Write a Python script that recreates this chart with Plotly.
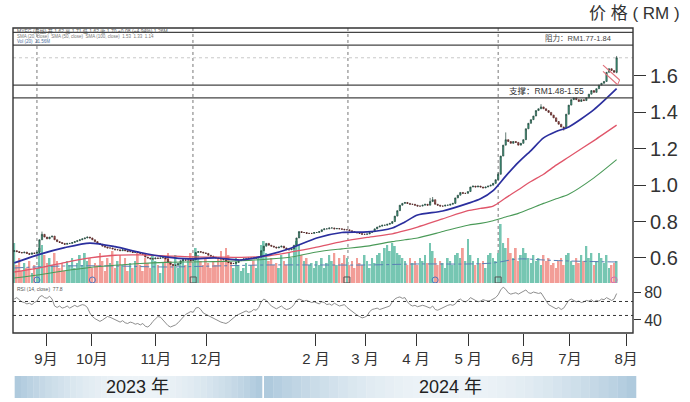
import plotly.graph_objects as go
import math

# ---------------- data ----------------
closes = [
    0.640, 0.635, 0.630, 0.628, 0.632, 0.625, 0.620, 0.628, 0.625, 0.632,
    0.700, 0.730, 0.715, 0.705, 0.715, 0.720, 0.700, 0.690, 0.685, 0.680,
    0.675, 0.680, 0.680, 0.685, 0.690, 0.695, 0.700, 0.705, 0.710, 0.715,
    0.710, 0.700, 0.690, 0.680, 0.675, 0.665, 0.660, 0.655, 0.655, 0.650,
    0.645, 0.645, 0.640, 0.645, 0.640, 0.635, 0.635, 0.630, 0.632, 0.630,
    0.625, 0.620, 0.605, 0.600, 0.595, 0.595, 0.600, 0.598, 0.600, 0.602,
    0.595, 0.575, 0.565, 0.560, 0.560, 0.570, 0.585, 0.590, 0.588, 0.590,
    0.585, 0.590, 0.630, 0.635, 0.632, 0.628, 0.625, 0.615, 0.610, 0.605,
    0.600, 0.598, 0.595, 0.590, 0.580, 0.575, 0.570, 0.570, 0.575, 0.585,
    0.590, 0.595, 0.595, 0.600, 0.600, 0.598, 0.600, 0.605, 0.640, 0.665,
    0.680, 0.670, 0.665, 0.660, 0.655, 0.660, 0.665, 0.655, 0.645, 0.645,
    0.650, 0.670, 0.710, 0.745, 0.740, 0.740, 0.735, 0.735, 0.735, 0.740,
    0.740, 0.745, 0.755, 0.760, 0.760, 0.765, 0.765, 0.760, 0.762, 0.760,
    0.758, 0.755, 0.755, 0.750, 0.745, 0.740, 0.738, 0.735, 0.730, 0.730,
    0.732, 0.740, 0.745, 0.760, 0.770, 0.775, 0.780, 0.780, 0.785, 0.790,
    0.800, 0.830, 0.860, 0.890, 0.900, 0.905, 0.900, 0.895, 0.895, 0.890,
    0.885, 0.885, 0.890, 0.895, 0.890, 0.910, 0.920, 0.895, 0.890, 0.885,
    0.885, 0.890, 0.890, 0.895, 0.900, 0.930, 0.945, 0.960, 0.955, 0.955,
    0.965, 0.990, 0.995, 0.990, 0.995, 0.990, 0.985, 0.990, 0.995, 1.000,
    1.010, 1.030, 1.060, 1.160, 1.220, 1.250, 1.240, 1.230, 1.240, 1.235,
    1.220, 1.230, 1.250, 1.310, 1.340, 1.360, 1.380, 1.410, 1.420, 1.430,
    1.420, 1.410, 1.400, 1.385, 1.370, 1.350, 1.335, 1.320, 1.315, 1.390,
    1.440, 1.470, 1.480, 1.470, 1.460, 1.470, 1.465, 1.480, 1.500, 1.520,
    1.510, 1.530, 1.550, 1.560, 1.570, 1.620, 1.640, 1.630, 1.620, 1.700,
]
first_open = 0.635
wick_highs = {11: 0.745, 165: 0.93, 166: 0.935, 192: 1.07, 195: 1.29, 209: 1.445, 239: 1.71}
wick_lows = {10: 0.625, 193: 1.06, 218: 1.30, 239: 1.615}

volumes = [
    40, 18, 25, 12, 20, 15, 22, 10, 18, 14,
    35, 38, 28, 20, 25, 18, 30, 22, 15, 20,
    12, 22, 18, 25, 15, 20, 28, 18, 30, 22,
    25, 15, 20, 18, 30, 22, 12, 25, 20, 32,
    15, 22, 28, 18, 25, 12, 20, 15, 22, 30,
    18, 12, 25, 20, 15, 28, 22, 18, 10, 20,
    25, 30, 22, 18, 28, 15, 20, 25, 18, 22,
    30, 20, 35, 28, 22, 18, 25, 20, 15, 22,
    18, 25, 32, 22, 35, 28, 20, 15, 25, 18,
    12, 15, 20, 10, 18, 22, 15, 25, 38, 42,
    30, 22, 25, 18, 20, 15, 28, 22, 18, 30,
    25, 35, 42, 38, 28, 22, 25, 18, 20, 15,
    22, 18, 25, 15, 20, 28, 22, 30, 18, 25,
    20, 28, 25, 18, 22, 15, 25, 20, 18, 28,
    22, 15, 25, 20, 28, 30, 22, 35, 38, 32,
    40, 37, 30, 28, 25, 22, 18, 25, 20, 22,
    18, 25, 22, 28, 20, 40, 32, 25, 18, 22,
    20, 15, 25, 22, 18, 28, 30, 25, 35, 22,
    44, 28, 22, 18, 25, 20, 22, 15, 28, 30,
    25, 22, 30, 59, 40, 35, 45, 30, 25, 35,
    22, 28, 35, 30, 25, 20, 28, 22, 25, 18,
    28, 22, 25, 18, 20, 15, 22, 25, 18, 28,
    30, 22, 18, 25, 20, 28, 22, 37, 25, 30,
    18, 22, 30, 25, 20, 28, 15, 18, 20, 22,
]

rsi = [
    70, 72, 69, 66, 65, 63, 64, 62, 65, 67,
    73, 75, 72, 71, 74, 70, 60, 58, 60, 57,
    58, 60, 57, 59, 61, 59, 60, 62, 61, 58,
    50, 45, 42, 40, 38, 40, 43, 45, 44, 42,
    40, 38, 37, 39, 36, 35, 37, 36, 34, 35,
    33, 35, 31, 30, 33, 38, 42, 45, 44, 40,
    36, 32, 30, 31, 33, 36, 40, 45, 48, 50,
    52, 51, 57, 58, 55, 50, 48, 46, 44, 42,
    40, 38, 37, 36, 35, 37, 40, 44, 46, 48,
    50, 52, 53, 51, 52, 55, 54, 58, 66, 70,
    68, 64, 60, 58, 56, 58, 60, 57, 55, 56,
    58, 62, 68, 70, 68, 67, 68, 66, 65, 66,
    64, 63, 66, 65, 62, 63, 61, 64, 62, 60,
    61, 62, 58, 55, 52, 50, 47, 45, 43, 44,
    46, 52, 55, 56, 57, 55, 56, 58, 59, 60,
    66, 70, 72, 73, 71, 72, 66, 62, 60, 61,
    59, 60, 61, 60, 58, 57, 60, 55, 54, 56,
    58, 60, 61, 62, 61, 63, 68, 70, 67, 66,
    68, 72, 70, 68, 66, 67, 69, 68, 67, 68,
    70, 72, 76, 83, 87, 84, 79, 77, 78, 79,
    77, 79, 81, 83, 79, 78, 80, 79, 78, 79,
    73, 68, 62, 60, 58, 56, 58, 55, 57, 63,
    68, 70, 68, 66, 67, 65, 66, 68, 67, 69,
    66, 68, 67, 70, 69, 72, 70, 68, 70, 77.8,
]

ma_idx = [0, 10, 20, 30, 40, 50, 60, 70, 80, 90, 100, 110, 120, 130, 140,
          150, 155, 160, 170, 180, 185, 190, 195, 200, 205, 210, 215, 220, 230, 239]
ma_short = [0.573, 0.620, 0.657, 0.682, 0.662, 0.630, 0.606, 0.595, 0.600, 0.589,
            0.614, 0.655, 0.710, 0.740, 0.743, 0.765, 0.798, 0.836, 0.858, 0.900,
            0.925, 0.970, 1.050, 1.125, 1.190, 1.260, 1.295, 1.320, 1.415, 1.530]
ma_mid = [0.523, 0.545, 0.575, 0.600, 0.615, 0.617, 0.612, 0.606, 0.605, 0.603,
          0.610, 0.633, 0.660, 0.690, 0.713, 0.733, 0.750, 0.770, 0.815, 0.860,
          0.872, 0.885, 0.930, 0.975, 1.020, 1.060, 1.110, 1.155, 1.245, 1.330]
ma_long = [0.490, 0.508, 0.530, 0.548, 0.560, 0.570, 0.576, 0.578, 0.580, 0.585,
           0.593, 0.605, 0.633, 0.650, 0.665, 0.690, 0.700, 0.710, 0.745, 0.780,
           0.790, 0.805, 0.825, 0.845, 0.872, 0.900, 0.925, 0.950, 1.040, 1.140]

vol_ma_idx = [0, 20, 40, 60, 80, 100, 120, 140, 160, 180, 190, 200, 210, 220, 239]
vol_ma = [15, 17, 17, 16, 17, 18, 18, 18, 19, 19, 20, 24, 23, 22, 21]

month_ticks = [12.6, 30.8, 56.2, 76.1, 119.7, 139.2, 159.4, 180.1, 201.9, 220.5, 242.8]
month_labels = ["9月", "10月", "11月", "12月", "2 月", "3 月", "4 月", "5 月", "6月", "7月", "8月"]
price_ticks = [0.6, 0.8, 1.0, 1.2, 1.4, 1.6]
rsi_ticks = [40, 80]
rsi_levels = [66.5, 46.5]
resistance = [1.77, 1.84]
support = [1.48, 1.55]
last_high = 1.70
period_lines = [9.0, 70.9, 132.4, 192.0]
event_idx = [9, 31, 71, 132, 167, 192, 238]
event_sym = ["circle-open", "circle-open", "square-open", "square-open", "circle-open", "square-open", "circle-open"]
event_col = ["#4a78c0", "#4a78c0", "#555555", "#555555", "#4a78c0", "#555555", "#d070b0"]
flag_upper_x = [233.6, 240.2]
flag_upper_y = [1.660, 1.578]
flag_lower_x = [233.6, 239.4]
flag_lower_y = [1.625, 1.552]
year_labels = ["2023 年", "2024 年"]

# ---------------- figure ----------------
FONT = "Liberation Sans, Arial, Noto Sans CJK SC, sans-serif"
n = len(closes)
x = list(range(n))
opens = [first_open] + closes[:-1]
highs = [max(o, c) for o, c in zip(opens, closes)]
lows = [min(o, c) for o, c in zip(opens, closes)]
for k, v in wick_highs.items():
    highs[k] = v
for k, v in wick_lows.items():
    lows[k] = v

vol_colors = ["#76c6b2" if c >= o else "#f29d97" for o, c in zip(opens, closes)]

fig = go.Figure()

fig.add_trace(go.Bar(x=x, y=volumes, marker=dict(color=vol_colors, line=dict(width=0)),
                     xaxis="x", yaxis="y", width=0.72))
fig.add_trace(go.Scatter(x=vol_ma_idx, y=vol_ma, mode="lines", xaxis="x", yaxis="y",
                         line=dict(color="#5a7fb5", width=1, dash="dashdot", shape="spline")))
fig.add_trace(go.Scatter(x=event_idx, y=[3] * len(event_idx), mode="markers", xaxis="x", yaxis="y",
                         marker=dict(symbol=event_sym, size=6, color=event_col, line=dict(width=1, color=event_col))))

for vals, col, w in [(ma_long, "#4a9a58", 1.1), (ma_mid, "#e0566a", 1.3), (ma_short, "#2b2f9e", 1.7)]:
    fig.add_trace(go.Scatter(x=ma_idx, y=vals, mode="lines", xaxis="x", yaxis="y3",
                             line=dict(color=col, width=w, shape="spline", smoothing=0.7)))

fig.add_trace(go.Candlestick(x=x, open=opens, high=highs, low=lows, close=closes,
                             xaxis="x", yaxis="y3",
                             increasing=dict(line=dict(color="#22443a", width=0.7), fillcolor="#3fae8c"),
                             decreasing=dict(line=dict(color="#4a2222", width=0.7), fillcolor="#d8605a"),
                             whiskerwidth=0))

fig.add_trace(go.Scatter(x=x, y=rsi, mode="lines", xaxis="x2", yaxis="y2",
                         line=dict(color="#808080", width=0.9)))

shapes = []
for p in period_lines:
    shapes.append(dict(type="line", xref="x", yref="paper", x0=p, x1=p, y0=0.164, y1=1,
                       line=dict(color="#777", width=1, dash="dot"), layer="below"))
for v in resistance + support:
    shapes.append(dict(type="line", xref="paper", yref="y3", x0=0, x1=1, y0=v, y1=v,
                       line=dict(color="#444", width=1.3)))
shapes.append(dict(type="line", xref="paper", yref="y3", x0=0, x1=1, y0=last_high, y1=last_high,
                   line=dict(color="#c8c8c8", width=1, dash="dot"), layer="below"))
for v in rsi_levels:
    shapes.append(dict(type="line", xref="paper", yref="y2", x0=0, x1=1, y0=v, y1=v,
                       line=dict(color="#333", width=1, dash="dot")))
# flag pattern (two parallel red lines)
for fx, fy in [(flag_upper_x, flag_upper_y), (flag_lower_x, flag_lower_y)]:
    shapes.append(dict(type="line", xref="x", yref="y3", x0=fx[0], x1=fx[1], y0=fy[0], y1=fy[1],
                       line=dict(color="#e0707a", width=1.1)))
shapes.append(dict(type="line", xref="x", yref="y3", x0=flag_upper_x[1], x1=flag_lower_x[1],
                   y0=flag_upper_y[1], y1=flag_lower_y[1], line=dict(color="#e0707a", width=1)))
# border
shapes.append(dict(type="rect", xref="paper", yref="paper", x0=0, x1=1, y0=0, y1=1,
                   line=dict(color="#333", width=1.4)))
# year bands with gradient strips
bands = [(0.0027, 0.4016), (0.4048, 1.0048)]
edge = (172, 200, 220)
center = (238, 244, 248)
steps = 40
for b0, b1 in bands:
    wdt = (b1 - b0) / steps
    for s in range(steps):
        t = (s + 0.5) / steps
        f = math.sin(math.pi * t) ** 0.9
        c = tuple(int(edge[k] + (center[k] - edge[k]) * f) for k in range(3))
        shapes.append(dict(type="rect", xref="paper", yref="paper",
                           x0=b0 + s * wdt, x1=b0 + (s + 1) * wdt + 0.0005,
                           y0=-0.2131, y1=-0.141, line=dict(width=0),
                           fillcolor=f"rgb{c}"))

annotations = [
    dict(text="价 格 ( RM )", xref="paper", yref="paper", x=1.003, y=1.049, showarrow=False,
         font=dict(size=17, color="#333", family=FONT), xanchor="center", yanchor="middle"),
    dict(text="阻力：RM1.77-1.84", xref="paper", yref="paper", x=0.855, y=0.967, showarrow=False,
         font=dict(size=7.5, color="#444", family=FONT), xanchor="left", yanchor="middle"),
    dict(text="支撑：RM1.48-1.55", xref="paper", yref="paper", x=0.797, y=0.794, showarrow=False,
         font=dict(size=8.5, color="#333", family=FONT), xanchor="left", yanchor="middle"),
    dict(text="MYEG (日线) 开 1.62 高 1.71 低 1.62 收 1.70 +0.08 (+4.94%) 1.26M", xref="paper", yref="paper",
         x=0.003, y=0.987, showarrow=False, font=dict(size=5, color="#555", family=FONT),
         xanchor="left", yanchor="middle"),
    dict(text="SMA (20, close)  SMA (50, close)  SMA (100, close)  1.53  1.33  1.14", xref="paper", yref="paper",
         x=0.003, y=0.971, showarrow=False, font=dict(size=4.5, color="#777", family=FONT),
         xanchor="left", yanchor="middle"),
    dict(text="Vol (20)  21.56M", xref="paper", yref="paper",
         x=0.003, y=0.956, showarrow=False, font=dict(size=4.5, color="#4a6fa0", family=FONT),
         xanchor="left", yanchor="middle"),
    dict(text="RSI (14, close)  77.8", xref="paper", yref="paper",
         x=0.004, y=0.143, showarrow=False, font=dict(size=5, color="#555", family=FONT),
         xanchor="left", yanchor="middle"),
]
for lbl, xc in zip(year_labels, [0.2016, 0.705]):
    annotations.append(dict(text=lbl, xref="paper", yref="paper", x=xc, y=-0.177, showarrow=False,
                            font=dict(size=18, color="#222", family=FONT),
                            xanchor="center", yanchor="middle"))

xr = [-0.5, 245.5]
fig.update_layout(
    width=690, height=402,
    margin=dict(l=13, r=57, t=28, b=69),
    paper_bgcolor="white", plot_bgcolor="white",
    showlegend=False,
    font=dict(family=FONT, color="#333"),
    xaxis=dict(domain=[0, 1], range=xr, anchor="y", showticklabels=False, ticks="",
               showgrid=False, zeroline=False, showline=False, rangeslider=dict(visible=False)),
    xaxis2=dict(domain=[0, 1], range=xr, anchor="y2", tickvals=month_ticks, ticktext=month_labels,
                ticks="outside", ticklen=12, tickwidth=1.2, tickcolor="#333",
                tickfont=dict(size=15, color="#333"), showgrid=False, zeroline=False, showline=False),
    yaxis=dict(domain=[0.164, 1], range=[0, 255], anchor="x", visible=False, fixedrange=True),
    yaxis3=dict(domain=[0.164, 1], range=[0.4626, 1.8637], overlaying="y", anchor="x", side="right",
                tickvals=price_ticks, ticktext=[f"{v:.1f}" for v in price_ticks],
                ticks="outside", ticklen=12, tickwidth=1.2, tickcolor="#333",
                tickfont=dict(size=20, color="#333"), showgrid=False, zeroline=False, showline=False),
    yaxis2=dict(domain=[0, 0.157], range=[21.4, 89.9], anchor="x2", side="right",
                tickvals=rsi_ticks, ticks="outside", ticklen=7, tickwidth=1.2, tickcolor="#333",
                tickfont=dict(size=16, color="#333"), showgrid=False, zeroline=False, showline=False),
    shapes=shapes,
    annotations=annotations,
)

fig.write_html("out.html")
